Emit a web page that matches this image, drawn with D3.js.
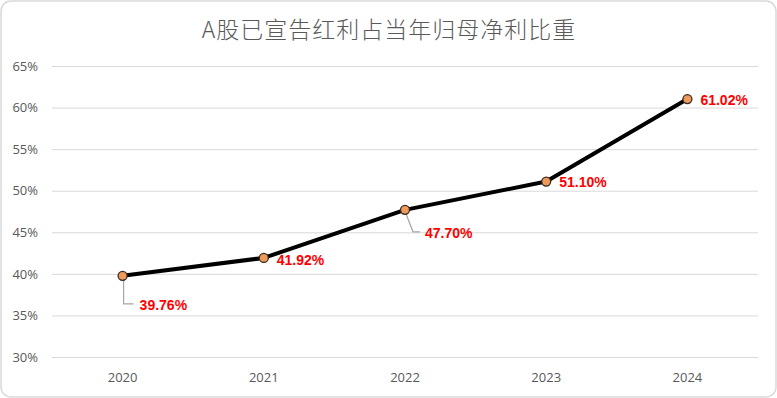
<!DOCTYPE html>
<html>
<head>
<meta charset="utf-8">
<script src="https://cdn.jsdelivr.net/npm/d3@7"></script>
<style>
  body { margin: 0; background: #fff; }
</style>
</head>
<body>
<script>
  var years = ["2020", "2021", "2022", "2023", "2024"];
  var ratios = [39.76, 41.92, 47.70, 51.10, 61.02];
  var yTicks = [30, 35, 40, 45, 50, 55, 60, 65];
  var labelText = ["39.76%", "41.92%", "47.70%", "51.10%", "61.02%"];
  var title = "A股已宣告红利占当年归母净利比重";

  var w = 777, h = 398;
  var plot = { left: 52, right: 758, top: 66, bottom: 357 };

  var svg = d3.select("body").append("svg")
    .attr("width", w)
    .attr("height", h);

  // chart frame
  svg.append("rect")
    .attr("x", 1).attr("y", 1)
    .attr("width", w - 2).attr("height", h - 2)
    .attr("rx", 10)
    .attr("fill", "#fff")
    .attr("stroke", "#d9d9d9")
    .attr("stroke-width", 1.5);

  svg.append("text")
    .attr("x", 389).attr("y", 38)
    .attr("text-anchor", "middle")
    .attr("fill", "#595959")
    .style("font-family", "'Noto Sans CJK SC', sans-serif")
    .style("font-size", "23px")
    .style("font-weight", 300)
    .style("letter-spacing", "1px")
    .text(title);

  var x = d3.scaleBand()
    .domain(years)
    .range([plot.left, plot.right]);

  var y = d3.scaleLinear()
    .domain([30, 65])
    .range([plot.bottom, plot.top]);

  // gridlines + y labels
  var yAxis = d3.axisLeft(y)
    .tickValues(yTicks)
    .tickSize(-(plot.right - plot.left))
    .tickPadding(14)
    .tickFormat(function (d) { return d + "%"; });

  svg.append("g")
    .attr("transform", "translate(" + plot.left + ",0)")
    .call(yAxis)
    .call(function (g) {
      g.select(".domain").remove();
      g.selectAll(".tick line").attr("stroke", "#d9d9d9").attr("stroke-width", 1);
      g.selectAll(".tick text")
        .attr("fill", "#595959")
        .style("font-family", "'Open Sans', sans-serif")
        .style("font-size", "13px");
    });

  var xAxis = d3.axisBottom(x).tickSize(0).tickPadding(16);

  svg.append("g")
    .attr("transform", "translate(0," + plot.bottom + ")")
    .call(xAxis)
    .call(function (g) {
      g.select(".domain").remove();
      g.selectAll(".tick text")
        .attr("fill", "#595959")
        .style("font-family", "'Open Sans', sans-serif")
        .style("font-size", "13px");
    });

  var pts = years.map(function (yr, i) {
    return { year: yr, v: ratios[i], label: labelText[i] };
  });

  var line = d3.line()
    .x(function (d) { return x(d.year) + x.bandwidth() / 2; })
    .y(function (d) { return y(d.v); });

  svg.append("path")
    .datum(pts)
    .attr("fill", "none")
    .attr("stroke", "#000")
    .attr("stroke-width", 4)
    .attr("stroke-linejoin", "round")
    .attr("d", line);

  // label offsets: dx, dy relative to the point; leader for those pushed away
  var offs = [
    { dx: 17, dy: 29, leader: true },
    { dx: 13, dy: 2, leader: false },
    { dx: 20, dy: 23, leader: true },
    { dx: 13, dy: 1, leader: false },
    { dx: 13, dy: 1, leader: false }
  ];

  pts.forEach(function (d, i) {
    var cx = x(d.year) + x.bandwidth() / 2, cy = y(d.v), o = offs[i];
    if (o.leader) {
      svg.append("path")
        .attr("fill", "none")
        .attr("stroke", "#a6a6a6")
        .attr("stroke-width", 1.2)
        .attr("d", i === 0
          ? "M" + (cx + 1) + "," + (cy + 4) + "L" + (cx + 1) + "," + (cy + o.dy - 1) + "L" + (cx + o.dx - 6) + "," + (cy + o.dy - 1)
          : "M" + (cx + 1) + "," + (cy + 4) + "L" + (cx + 8) + "," + (cy + o.dy - 1) + "L" + (cx + o.dx - 5) + "," + (cy + o.dy - 1));
    }
  });

  svg.selectAll("circle.pt")
    .data(pts)
    .enter().append("circle")
    .attr("class", "pt")
    .attr("cx", function (d) { return x(d.year) + x.bandwidth() / 2; })
    .attr("cy", function (d) { return y(d.v); })
    .attr("r", 4.5)
    .attr("fill", "#ed9a5b")
    .attr("stroke", "#3a2a20")
    .attr("stroke-width", 1.3);

  svg.selectAll("text.lbl")
    .data(pts)
    .enter().append("text")
    .attr("class", "lbl")
    .attr("x", function (d, i) { return x(d.year) + x.bandwidth() / 2 + offs[i].dx; })
    .attr("y", function (d, i) { return y(d.v) + offs[i].dy; })
    .attr("dy", "0.35em")
    .attr("fill", "#ff0000")
    .style("font-family", "'Liberation Sans', Arial, sans-serif")
    .style("font-weight", "bold")
    .style("font-size", "14px")
    .text(function (d) { return d.label; });
</script>
</body>
</html>
